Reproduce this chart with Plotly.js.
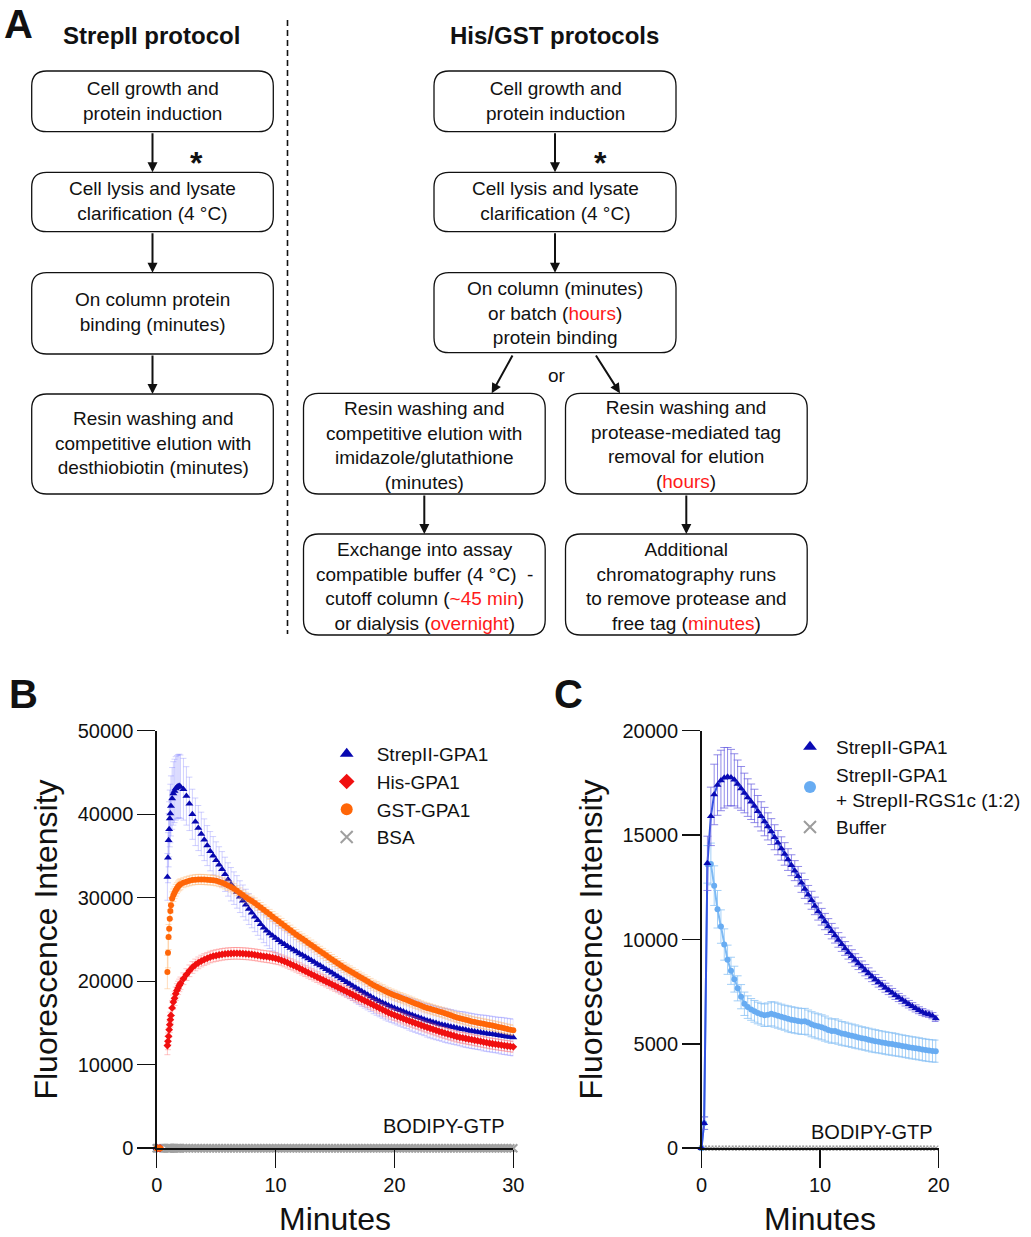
<!DOCTYPE html>
<html><head><meta charset="utf-8">
<script src="https://cdn.plot.ly/plotly-3.0.1.min.js"></script>
<style>html,body{margin:0;padding:0;background:#fff}#chart{width:1031px;height:1237px}</style>
</head><body><div id="chart"></div>
<script>
// ---------- Panel B data ----------
const tB = [0,0.1,0.2,0.3,
0.9,0.95,1,1.05,1.1,1.15,1.2,1.3,1.4,1.5,1.6,1.7,1.8,1.9,2,
2.25,2.5,2.75,3,3.25,3.5,3.75,4,4.25,4.5,4.75,5,5.25,5.5,5.75,6,6.25,6.5,6.75,7,
7.25,7.5,7.75,8,8.25,8.5,8.75,9,9.25,9.5,9.75,10,10.25,10.5,10.75,11,11.25,11.5,11.75,12,
12.25,12.5,12.75,13,13.25,13.5,13.75,14,14.25,14.5,14.75,15,15.25,15.5,15.75,16,
16.25,16.5,16.75,17,17.25,17.5,17.75,18,18.25,18.5,18.75,19,19.25,19.5,19.75,20,
20.25,20.5,20.75,21,21.25,21.5,21.75,22,22.25,22.5,22.75,23,23.25,23.5,23.75,24,
24.25,24.5,24.75,25,25.25,25.5,25.75,26,26.25,26.5,26.75,27,27.25,27.5,27.75,28,
28.25,28.5,28.75,29,29.25,29.5,29.75,30];

const strepB = [0,0,0,0,
32500,34800,36900,38200,39500,40100,41000,41900,42500,42800,43100,43250,43350,43400,43300,
43000,42200,41250,40000,39100,38350,37650,36950,36250,35580,35030,34500,33960,33430,32810,32190,
31620,31150,30700,30130,29630,29170,28640,28200,27740,27300,26840,26420,26050,25720,25440,25180,
24910,24650,24420,24200,23990,23780,23550,23330,23130,22920,22720,22500,22290,22080,21880,21660,
21450,21230,21010,20780,20560,20330,20110,19890,19670,19440,19220,19010,18800,18580,18370,18160,
17960,17770,17590,17420,17260,17100,16950,16800,16650,16510,16370,16230,16090,15950,15820,15690,
15560,15430,15310,15200,15090,14990,14890,14800,14720,14640,14560,14480,14400,14320,14250,14180,
14110,14040,13980,13920,13860,13800,13750,13690,13640,13580,13530,13470,13420,13360,13310,13260];

const hisB = [0,0,0,0,
12300,12800,13400,14200,14800,15400,15900,16800,17500,17950,18500,18900,19200,19500,19750,
20300,20800,21250,21650,21950,22200,22420,22600,22750,22900,23000,23080,23150,23220,23270,23300,
23320,23340,23340,23330,23310,23290,23260,23220,23170,23110,23050,22990,22950,22890,22820,22750,
22640,22510,22370,22220,22060,21900,21740,21570,21390,21210,21030,20850,20680,20500,20320,20150,
19970,19800,19620,19450,19270,19090,18910,18730,18560,18380,18200,18020,17840,17660,17490,17310,
17130,16950,16770,16590,16410,16240,16080,15940,15800,15660,15520,15380,15250,15120,14990,14860,
14730,14600,14480,14360,14240,14120,14000,13890,13780,13680,13570,13470,13360,13280,13210,13140,
13070,13000,12930,12860,12790,12710,12640,12570,12510,12460,12400,12350,12290,12240,12190,12140];

const gstB = [0,0,0,0,
21100,23400,25300,26300,27500,28400,29100,29900,30300,30600,30900,31150,31350,31500,31620,
31800,31930,32030,32120,32170,32200,32200,32180,32150,32130,32100,32030,31930,31800,31650,31480,
31300,31080,30840,30580,30320,30060,29830,29600,29380,29100,28830,28550,28280,28010,27740,27470,
27200,26930,26660,26390,26120,25850,25580,25320,25080,24840,24590,24340,24090,23840,23590,23340,
23100,22850,22600,22360,22120,21880,21660,21450,21240,21020,20810,20600,20390,20170,19960,19740,
19530,19350,19170,18990,18810,18630,18470,18330,18190,18050,17910,17770,17630,17490,17340,17200,
17050,16910,16800,16700,16590,16480,16380,16280,16160,16040,15920,15790,15670,15570,15480,15380,
15290,15190,15110,15040,14970,14900,14830,14760,14690,14610,14530,14450,14360,14280,14200,14120];

const bsaB = [0,0,0,0,
0,0,0,0,0,0,0,0,0,0,0,0,0,0,0,
0,0,0,0,0,0,0,0,0,0,0,0,0,0,0,0,0,0,0,0,
0,0,0,0,0,0,0,0,0,0,0,0,0,0,0,0,0,0,0,0,
0,0,0,0,0,0,0,0,0,0,0,0,0,0,0,0,0,0,0,0,
0,0,0,0,0,0,0,0,0,0,0,0,0,0,0,0,0,0,0,0,
0,0,0,0,0,0,0,0,0,0,0,0,0,0,0,0,0,0,0,0,
0,0,0,0,0,0,0,0,0,0,0,0,0,0,0,0];

const errStrepB = [300,300,300,300,
2800,3000,3200,3300,3400,3500,3600,3700,3800,3800,3800,3800,3800,3800,3800,
3700,3500,3200,3000,2850,2700,2600,2500,2400,2350,2300,2200,2150,2100,2050,2000,
2000,1950,1950,1900,1900,1850,1850,1800,1800,1800,1800,1800,1800,1800,1800,1800,
1750,1750,1750,1750,1750,1750,1750,1750,1700,1700,1700,1700,1700,1700,1700,1700,
1700,1700,1700,1700,1750,1750,1750,1750,1750,1750,1800,1800,1800,1800,1800,1800,
1850,1850,1850,1850,1900,1900,1900,1900,1900,1900,1900,1900,1950,1950,1950,1950,
1950,1950,2000,2000,2000,2000,2000,2000,2050,2050,2050,2050,2050,2050,2100,2100,
2100,2100,2100,2100,2100,2150,2150,2150,2150,2150,2150,2200,2200,2200,2200,2200];

const errHisB = [200,200,200,200,
1100,1000,1000,950,950,900,900,900,850,850,800,800,800,750,750,
700,700,700,700,700,700,700,700,700,700,700,700,700,700,700,700,
700,700,700,700,700,700,700,700,700,700,700,700,700,700,700,700,
650,650,650,650,650,650,650,650,650,650,650,650,650,650,650,650,
650,650,650,650,650,650,650,650,650,650,650,650,650,650,650,650,
650,650,650,650,650,650,650,650,650,650,650,650,650,650,650,650,
650,650,650,650,650,650,650,650,650,650,650,650,650,650,650,650,
650,650,650,650,650,650,650,650,650,650,650,650,650,650,650,650];

const errGstB = [200,200,200,200,
2000,1800,1500,1300,1100,1000,900,800,750,700,700,650,650,650,650,
600,600,600,600,600,600,600,600,600,600,600,600,600,600,600,600,
600,600,600,600,600,600,600,600,600,600,600,600,600,600,600,600,
600,600,600,600,600,600,600,600,600,600,600,600,600,600,600,600,
600,600,600,600,600,600,600,600,600,600,600,600,600,600,600,600,
600,600,600,600,600,600,600,600,600,600,600,600,600,600,600,600,
600,600,600,600,600,600,600,600,600,600,600,600,600,600,600,600,
600,600,600,600,600,600,600,600,600,600,600,600,600,600,600,600];

// ---------- Panel C data ----------
const tC = [0,0.22,0.5,0.79,1.07,1.35,1.64,1.92,2.2,2.49,2.77,3.05,3.34,3.62,3.9,4.19,4.47,4.75,5.04,5.32,
5.6,5.89,6.17,6.45,6.74,7.02,7.3,7.59,7.87,8.15,8.44,8.72,9,9.29,9.57,9.85,10.14,10.42,10.7,10.99,
11.27,11.55,11.84,12.12,12.4,12.69,12.97,13.25,13.54,13.82,14.1,14.39,14.67,14.95,15.24,15.52,15.8,16.09,16.37,16.65,
16.94,17.22,17.5,17.79,18.07,18.35,18.64,18.92,19.2,19.49,19.77];

const strepC = [0,1200,13650,15900,16950,17400,17620,17750,17800,17760,17650,17450,17240,17020,16800,16600,16400,16150,15900,15650,
15420,15170,14900,14640,14360,14100,13830,13560,13300,13030,12720,12420,12150,11880,11610,11340,11090,10860,10620,10400,
10190,9980,9770,9570,9380,9200,9020,8850,8690,8530,8380,8230,8080,7950,7820,7690,7570,7450,7330,7220,
7110,7000,6900,6800,6700,6610,6530,6460,6420,6350,6220];

const rgsC = [0,1200,13600,13620,12580,11450,10620,9760,9030,8500,8100,7660,7260,6920,6760,6650,6560,6480,6420,6370,
6400,6440,6400,6350,6300,6250,6200,6160,6130,6100,6070,6080,6020,5940,5880,5840,5790,5730,5660,5610,
5620,5560,5500,5470,5430,5390,5350,5310,5270,5240,5200,5160,5130,5100,5070,5040,5010,4990,4960,4930,
4900,4870,4840,4810,4790,4760,4730,4700,4680,4660,4650];

const bufC = [0,0,0,0,0,0,0,0,0,0,0,0,0,0,0,0,0,0,0,0,
0,0,0,0,0,0,0,0,0,0,0,0,0,0,0,0,0,0,0,0,
0,0,0,0,0,0,0,0,0,0,0,0,0,0,0,0,0,0,0,0,
0,0,0,0,0,0,0,0,0,0,0];

const errStrepC = [0,300,1300,1400,1450,1450,1450,1450,1400,1350,1250,1150,1050,950,900,850,800,750,700,680,
650,620,600,580,560,540,520,500,480,470,460,450,440,430,420,410,400,390,380,370,
360,350,340,330,320,310,300,290,280,270,260,250,240,230,220,215,210,205,200,195,
190,185,180,175,170,165,160,155,150,150,150];

const errRgsC = [0,300,900,1000,950,900,800,750,700,650,620,600,580,560,540,520,520,520,520,540,
560,580,600,600,600,600,620,620,620,620,620,620,600,600,600,600,600,600,580,580,
580,580,570,570,560,560,560,550,550,550,550,550,550,540,540,540,540,540,540,530,
530,530,530,530,530,530,530,530,530,530,530];

// ---------- tick labels ----------
const xTickB = [0,10,20,30], xTickBText = ['0','10','20','30'];
const yTickB = [0,10000,20000,30000,40000,50000], yTickBText = ['0','10000','20000','30000','40000','50000'];
const xTickC = [0,10,20], xTickCText = ['0','10','20'];
const yTickC = [0,5000,10000,15000,20000], yTickCText = ['0','5000','10000','15000','20000'];

// ---------- layout helpers ----------
const FONT = 'Liberation Sans, Arial, Helvetica, sans-serif';
const W = 1031, H = 1237;
const px = v => v / W, py = v => 1 - v / H;
const RED = '#ff1a1a';
const red = s => '<span style="color:' + RED + '">' + s + '</span>';

function roundRect(x0, y0, x1, y1, r) {
  const P = (x, y) => px(x) + ',' + py(y);
  return 'M' + P(x0 + r, y0) + ' L' + P(x1 - r, y0) + ' Q' + P(x1, y0) + ' ' + P(x1, y0 + r) +
    ' L' + P(x1, y1 - r) + ' Q' + P(x1, y1) + ' ' + P(x1 - r, y1) +
    ' L' + P(x0 + r, y1) + ' Q' + P(x0, y1) + ' ' + P(x0, y1 - r) +
    ' L' + P(x0, y0 + r) + ' Q' + P(x0, y0) + ' ' + P(x0 + r, y0) + ' Z';
}
function txt(x, y, text, size, extra) {
  return Object.assign({x: px(x), y: py(y), xref: 'paper', yref: 'paper', text: text, showarrow: false,
    xanchor: 'center', yanchor: 'middle', font: {family: FONT, size: size, color: '#111'}}, extra || {});
}
function arrow(x0, y0, x1, y1) {
  return {x: px(x1), y: py(y1), xref: 'paper', yref: 'paper', ax: x0 - x1, ay: y0 - y1, axref: 'pixel', ayref: 'pixel',
    text: '', showarrow: true, arrowhead: 2, arrowsize: 1, arrowwidth: 2, arrowcolor: '#111', standoff: 0, startstandoff: 0};
}

const boxes = [
  {b: [31.7, 71, 273.3, 131.7], ty: 100.5, lines: ['Cell growth and', 'protein induction']},
  {b: [31.7, 172.3, 273.3, 231.7], ty: 201.3, lines: ['Cell lysis and lysate', 'clarification (4 °C)']},
  {b: [31.7, 272.7, 273.3, 354], ty: 311.7, lines: ['On column protein', 'binding (minutes)']},
  {b: [31.7, 394, 273.3, 494], ty: 443, lines: ['Resin washing and', 'competitive elution with', 'desthiobiotin (minutes)']},
  {b: [434, 71, 676, 131.7], ty: 100.5, lines: ['Cell growth and', 'protein induction']},
  {b: [434, 172.3, 676, 231.7], ty: 201.3, lines: ['Cell lysis and lysate', 'clarification (4 °C)']},
  {b: [434, 272.7, 676, 352.7], ty: 312.6, lines: ['On column (minutes)', 'or batch (' + red('hours') + ')', 'protein binding']},
  {b: [303.5, 393.3, 545.2, 494], ty: 445, lines: ['Resin washing and', 'competitive elution with', 'imidazole/glutathione', '(minutes)']},
  {b: [565.5, 393.3, 807.2, 494], ty: 444, lines: ['Resin washing and', 'protease-mediated tag', 'removal for elution', '(' + red('hours') + ')']},
  {b: [303.5, 534, 545.2, 635], ty: 587, lines: ['Exchange into assay', 'compatible buffer (4 °C) \u00a0-', 'cutoff column (' + red('~45 min') + ')', 'or dialysis (' + red('overnight') + ')']},
  {b: [565.5, 534, 807.2, 635], ty: 587, lines: ['Additional', 'chromatography runs', 'to remove protease and', 'free tag (' + red('minutes') + ')']}
];

const shapes = boxes.map(o => ({type: 'path', xref: 'paper', yref: 'paper', path: roundRect(o.b[0], o.b[1], o.b[2], o.b[3], 15),
  line: {color: '#111', width: 1.3}, fillcolor: 'rgba(0,0,0,0)'}));
shapes.push({type: 'line', xref: 'paper', yref: 'paper', x0: px(287.5), x1: px(287.5), y0: py(20), y1: py(634),
  line: {color: '#111', width: 1.6, dash: '6px,4px'}});

const annotations = boxes.map(o => txt((o.b[0] + o.b[2]) / 2, o.ty, o.lines.join('<br>'), 19));
annotations.push(
  txt(18, 0, '<b>A</b>', 40, {yanchor: 'top'}),
  txt(23, 694, '<b>B</b>', 40),
  txt(568, 694, '<b>C</b>', 40),
  txt(151.5, 35, '<b>StrepII protocol</b>', 24),
  txt(554.7, 35, '<b>His/GST protocols</b>', 24),
  txt(196, 163, '<b>*</b>', 32),
  txt(600, 163, '<b>*</b>', 32),
  txt(556.7, 375, 'or', 19),
  txt(444, 1126, 'BODIPY-GTP', 20),
  txt(872, 1132, 'BODIPY-GTP', 20),
  arrow(152.5, 131.7, 152.5, 172.3),
  arrow(152.5, 231.7, 152.5, 272.7),
  arrow(152.5, 354, 152.5, 394),
  arrow(555, 131.7, 555, 172.3),
  arrow(555, 231.7, 555, 272.7),
  arrow(513.3, 354, 491.7, 393.3),
  arrow(595, 354, 620, 393.3),
  arrow(424.3, 494, 424.3, 534),
  arrow(686.3, 494, 686.3, 534)
);

// ---------- traces ----------
const base = {type: 'scatter', cliponaxis: false, hoverinfo: 'skip'};
const traces = [
  Object.assign({}, base, {x: tB, y: bsaB, name: 'BSA', mode: 'markers', xaxis: 'x', yaxis: 'y', legend: 'legend', legendrank: 4,
    marker: {symbol: 'x-thin', size: 8, color: '#a0a0a0', line: {color: '#a0a0a0', width: 2}}}),
  Object.assign({}, base, {x: tB, y: strepB, name: 'StrepII-GPA1', mode: 'markers', xaxis: 'x', yaxis: 'y', legend: 'legend', legendrank: 1,
    marker: {symbol: 'triangle-up', size: 7, color: '#0808b0'},
    error_y: {type: 'data', array: errStrepB, visible: true, color: 'rgba(120,120,255,0.34)', thickness: 1, width: 3}}),
  Object.assign({}, base, {x: tB, y: hisB, name: 'His-GPA1', mode: 'markers', xaxis: 'x', yaxis: 'y', legend: 'legend', legendrank: 2,
    marker: {symbol: 'diamond', size: 6, color: '#f01010'},
    error_y: {type: 'data', array: errHisB, visible: true, color: 'rgba(255,90,90,0.35)', thickness: 1, width: 3}}),
  Object.assign({}, base, {x: tB, y: gstB, name: 'GST-GPA1', mode: 'markers', xaxis: 'x', yaxis: 'y', legend: 'legend', legendrank: 3,
    marker: {symbol: 'circle', size: 6, color: '#ff6608'},
    error_y: {type: 'data', array: errGstB, visible: true, color: 'rgba(255,170,90,0.4)', thickness: 1, width: 3}}),

  Object.assign({}, base, {x: tC, y: bufC, name: 'Buffer', mode: 'markers', xaxis: 'x2', yaxis: 'y2', legend: 'legend2', legendrank: 3,
    marker: {symbol: 'x-thin', size: 5, color: '#9c9c9c', line: {color: '#9c9c9c', width: 1.1}}}),
  Object.assign({}, base, {x: tC, y: rgsC, name: 'rgs-line', mode: 'lines', xaxis: 'x2', yaxis: 'y2', showlegend: false,
    line: {color: '#7cb9f4', width: 2}}),
  Object.assign({}, base, {x: tC, y: rgsC, name: 'StrepII-GPA1<br>+ StrepII-RGS1c (1:2)', mode: 'markers', xaxis: 'x2', yaxis: 'y2', legend: 'legend2', legendrank: 2,
    marker: {symbol: 'circle', size: 6, color: '#68acf2'},
    error_y: {type: 'data', array: errRgsC, visible: true, color: 'rgba(140,195,245,0.8)', thickness: 1, width: 4}}),
  Object.assign({}, base, {x: tC, y: strepC, name: 'strep-line', mode: 'lines', xaxis: 'x2', yaxis: 'y2', showlegend: false,
    line: {color: '#3252e2', width: 2}}),
  Object.assign({}, base, {x: tC, y: strepC, name: 'StrepII-GPA1', mode: 'markers', xaxis: 'x2', yaxis: 'y2', legend: 'legend2', legendrank: 1,
    marker: {symbol: 'triangle-up', size: 7, color: '#0a0ab4'},
    error_y: {type: 'data', array: errStrepC, visible: true, color: 'rgba(110,100,225,0.75)', thickness: 1, width: 4}})
];

const axisStyle = {showline: true, linecolor: '#111', linewidth: 1.4, ticks: 'outside', ticklen: 18, tickwidth: 1.4,
  tickcolor: '#111', showgrid: false, zeroline: false, fixedrange: true, automargin: false,
  tickfont: {family: FONT, size: 20, color: '#111'}};
const yDom = [1 - 1148.2 / H, 1 - 730.8 / H];

const layout = {
  width: W, height: H, margin: {l: 0, r: 0, t: 0, b: 0}, paper_bgcolor: '#fff', plot_bgcolor: '#fff',
  font: {family: FONT, color: '#111'}, showlegend: true, hovermode: false,
  xaxis: Object.assign({}, axisStyle, {domain: [px(156.7), px(513.3)], range: [0, 30], anchor: 'y',
    tickmode: 'array', tickvals: xTickB, ticktext: xTickBText,
    title: {text: 'Minutes', font: {family: FONT, size: 32, color: '#111'}, standoff: 15}}),
  yaxis: Object.assign({}, axisStyle, {domain: yDom, range: [0, 50000], anchor: 'x',
    tickmode: 'array', tickvals: yTickB, ticktext: yTickBText,
    title: {text: 'Fluorescence Intensity', font: {family: FONT, size: 32, color: '#111'}, standoff: 10}}),
  xaxis2: Object.assign({}, axisStyle, {domain: [px(701.5), px(938.5)], range: [0, 20], anchor: 'y2',
    tickmode: 'array', tickvals: xTickC, ticktext: xTickCText,
    title: {text: 'Minutes', font: {family: FONT, size: 32, color: '#111'}, standoff: 15}}),
  yaxis2: Object.assign({}, axisStyle, {domain: yDom, range: [0, 20000], anchor: 'x2',
    tickmode: 'array', tickvals: yTickC, ticktext: yTickCText,
    title: {text: 'Fluorescence Intensity', font: {family: FONT, size: 32, color: '#111'}, standoff: 10}}),
  legend: {x: px(316.7), y: py(735), xanchor: 'left', yanchor: 'top', bgcolor: 'rgba(0,0,0,0)', borderwidth: 0,
    font: {family: FONT, size: 19, color: '#111'}, itemwidth: 50, itemsizing: 'constant', traceorder: 'normal'},
  legend2: {x: px(784), y: py(728), xanchor: 'left', yanchor: 'top', bgcolor: 'rgba(0,0,0,0)', borderwidth: 0,
    font: {family: FONT, size: 19, color: '#111'}, itemwidth: 42, itemsizing: 'constant', traceorder: 'normal'},
  shapes: shapes,
  annotations: annotations
};

Plotly.newPlot('chart', traces, layout, {displayModeBar: false, staticPlot: true});
</script></body></html>
